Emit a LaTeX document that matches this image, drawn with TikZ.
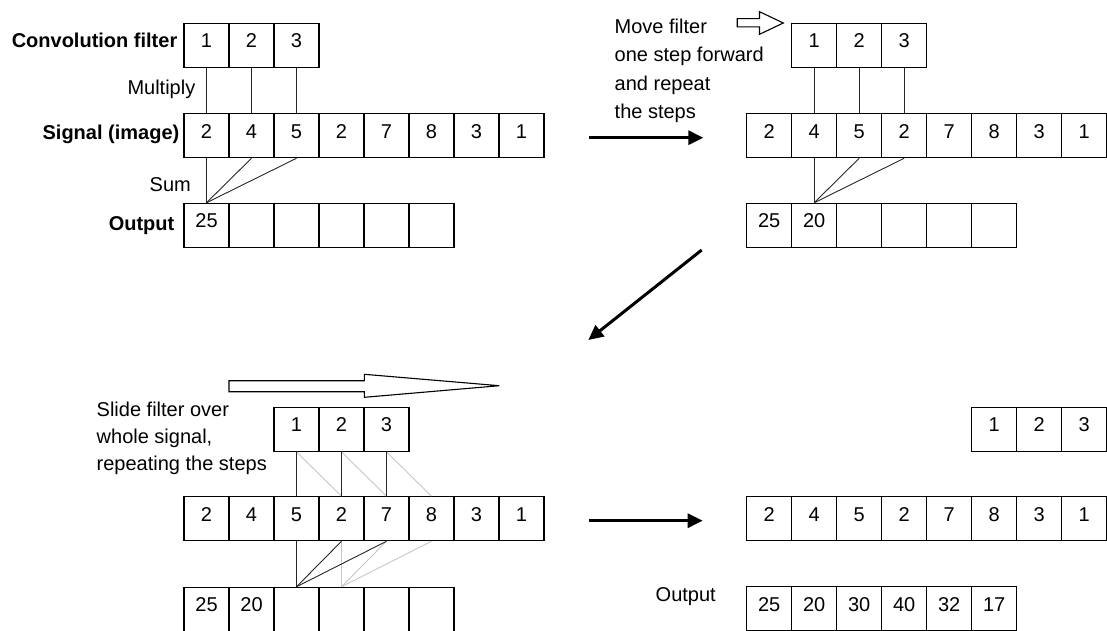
\documentclass[tikz,border=0pt]{standalone}
\usepackage{fontspec}
\setmainfont{Liberation Sans}
\usetikzlibrary{arrows.meta}

\tikzset{
  cell/.style={draw=black, line width=1.1pt, inner sep=0pt,
    minimum width=45pt, minimum height=44pt,
    text height=15pt, text depth=10pt, font=\fontsize{20}{24}\selectfont},
  link/.style={line width=0.9pt, draw=black!85},
  faint/.style={line width=0.9pt, draw=black!22},
  bigarrow/.style={line width=3pt, -{Triangle[length=15pt,width=14pt]}},
  hollow/.style={draw=black, line width=1.1pt, fill=white, line join=miter},
  lab/.style={font=\fontsize{20}{24}\selectfont\bfseries, inner sep=0pt},
  note/.style={font=\fontsize{20}{24}\selectfont, inner sep=0pt},
}

% a row of cells: name prefix, left x, top y, list of entries
\newcommand\cellrow[4]{%
  \foreach \v [count=\i] in {#4}
    \node[cell] (#1\i) at ({#2+45*(\i-0.5)}, {#3+22}) {\v};}

\begin{document}
\begin{tikzpicture}[x=1pt, y=-1pt]
\useasboundingbox (0,0) rectangle (1107,630);

% ---------- step 1 ----------
\cellrow{af}{184}{23.3}{1,2,3}
\cellrow{as}{184}{113.7}{2,4,5,2,7,8,3,1}
\cellrow{ao}{184}{203.3}{25,{},{},{},{},{}}
\node[lab, anchor=base east] (la1) at (177.5,47) {Convolution filter};
\node[note, anchor=base east] (la2) at (195.5,94) {Multiply};
\node[lab, anchor=base east] (la3) at (179.5,139) {Signal (image)};
\node[note, anchor=base east] (la4) at (191,191) {Sum};
\node[lab, anchor=base east] (la5) at (174.5,230.5) {Output};
\foreach \i in {1,2,3} \draw[link] (af\i.south) -- (as\i.north);
\foreach \i in {1,2,3} \draw[link] (as\i.south) -- (ao1.north);

% ---------- step 2 ----------
\cellrow{bf}{791.7}{23.3}{1,2,3}
\cellrow{bs}{746.7}{113.7}{2,4,5,2,7,8,3,1}
\cellrow{bo}{746.7}{203.3}{25,20,{},{},{},{}}
\node[note, anchor=base west] (lb1) at (614.5,33.3) {Move filter};
\node[note, anchor=base west] (lb2) at (614.5,61.8) {one step forward};
\node[note, anchor=base west] (lb3) at (614.5,90.3) {and repeat};
\node[note, anchor=base west] (lb4) at (614.5,118.8) {the steps};
\draw[hollow] (737.2,18.6) -- (759.5,18.6) -- (759.5,11.7) -- (783.3,23)
  -- (759.5,34.3) -- (759.5,26.8) -- (737.2,26.8) -- cycle;
\foreach \i/\j in {1/2,2/3,3/4} \draw[link] (bf\i.south) -- (bs\j.north);
\foreach \i in {2,3,4} \draw[link] (bs\i.south) -- (bo2.north);

% ---------- step 3 ----------
\cellrow{cf}{274}{407.3}{1,2,3}
\cellrow{cs}{184}{496.7}{2,4,5,2,7,8,3,1}
\cellrow{co}{184}{587.3}{25,20,{},{},{},{}}
\node[note, anchor=base west] (lc1) at (96.5,416) {Slide filter over};
\node[note, anchor=base west] (lc2) at (96.5,443.3) {whole signal,};
\node[note, anchor=base west] (lc3) at (96.5,470.5) {repeating the steps};
\draw[hollow] (229,380.7) -- (364.3,380.7) -- (364.3,374.3) -- (499.3,385.7)
  -- (364.3,397.3) -- (364.3,391.7) -- (229,391.7) -- cycle;
\foreach \i/\j in {1/4,2/5,3/6} \draw[faint] (cf\i.south) -- (cs\j.north);
\foreach \i in {4,5,6} \draw[faint] (cs\i.south) -- (co4.north);
\foreach \i/\j in {1/3,2/4,3/5} \draw[link] (cf\i.south) -- (cs\j.north);
\foreach \i in {3,4,5} \draw[link] (cs\i.south) -- (co3.north);

% ---------- result ----------
\cellrow{df}{971.7}{407.3}{1,2,3}
\cellrow{ds}{746.7}{496.7}{2,4,5,2,7,8,3,1}
\cellrow{do}{746.7}{586.7}{25,20,30,40,32,17}
\node[note, anchor=base west] (ld1) at (655.5,601) {Output};

% ---------- flow between steps ----------
\coordinate (p1) at (589.3,137.7);
\coordinate (q1) at (703.3,137.7);
\coordinate (p2) at (701.7,250);
\coordinate (q2) at (588.3,340);
\coordinate (p3) at (589.3,520.7);
\coordinate (q3) at (702.7,520.7);
\draw[bigarrow] (p1) -- (q1);
\draw[bigarrow] (p2) -- (q2);
\draw[bigarrow] (p3) -- (q3);
\end{tikzpicture}
\end{document}
